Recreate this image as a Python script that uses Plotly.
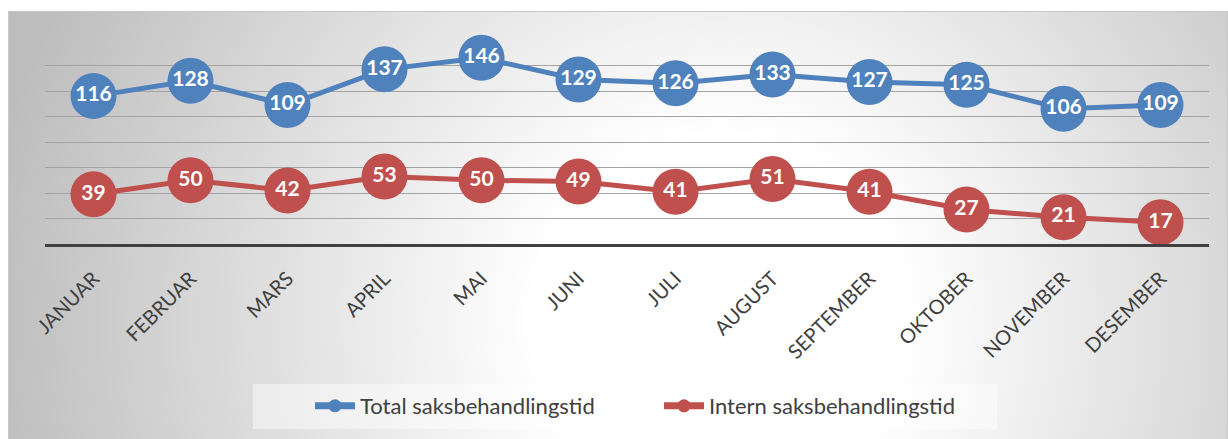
import plotly.graph_objects as go
import urllib.parse

months = ["JANUAR", "FEBRUAR", "MARS", "APRIL", "MAI", "JUNI", "JULI",
          "AUGUST", "SEPTEMBER", "OKTOBER", "NOVEMBER", "DESEMBER"]
total = [116, 128, 109, 137, 146, 129, 126, 133, 127, 125, 106, 109]
intern = [39, 50, 42, 53, 50, 49, 41, 51, 41, 27, 21, 17]
series_names = ["Total saksbehandlingstid", "Intern saksbehandlingstid"]
colors = ["#4f81bd", "#c0504d"]

W, H = 1228, 439
ml, mr, mt, mb = 45, 19, 40, 195
pw, ph = W - ml - mr, H - mt - mb

def px_x(p):
    return (p - ml) / pw

def px_y(p):
    return (H - mb - p) / ph

fig = go.Figure()
for vals, name, col in zip([total, intern], series_names, colors):
    fig.add_trace(go.Scatter(
        x=months, y=vals, mode="lines+markers+text",
        text=[str(v) for v in vals], textposition="middle center",
        textfont=dict(family="Lato", size=21, color="white", weight="bold"),
        line=dict(color=col, width=5),
        marker=dict(color=col, size=46),
        showlegend=False, name=name, cliponaxis=False,
    ))
for name, col in zip(series_names, colors):
    fig.add_trace(go.Scatter(
        x=[None], y=[None], mode="lines+markers", name=name,
        line=dict(color=col, width=7), marker=dict(color=col, size=13),
    ))

# radial gradient background (chart area frame)
bx0, by0, bw, bh = 8, 11, W - 8, H - 11
svg = (
    f'<svg xmlns="http://www.w3.org/2000/svg" width="{bw}" height="{bh}" viewBox="0 0 {bw} {bh}">'
    '<defs><radialGradient id="g" gradientUnits="userSpaceOnUse" cx="712" cy="310" r="740">'
    '<stop offset="0" stop-color="#ffffff"/><stop offset="0.25" stop-color="#ffffff"/>'
    '<stop offset="1" stop-color="#bdbdbd"/></radialGradient></defs>'
    f'<rect x="0.5" y="0.5" width="{bw-1}" height="{bh}" fill="url(#g)" stroke="#c8c8c8" stroke-width="1"/>'
    '</svg>'
)
src = "data:image/svg+xml;charset=utf-8," + urllib.parse.quote(svg)

fig.add_layout_image(dict(
    source=src, xref="paper", yref="paper",
    x=px_x(bx0), y=px_y(by0),
    sizex=bw / pw, sizey=bh / ph,
    xanchor="left", yanchor="top", sizing="stretch", layer="below",
))

# legend backing box
fig.add_shape(type="rect", xref="paper", yref="paper",
              x0=px_x(253), x1=px_x(997), y0=px_y(429), y1=px_y(384),
              fillcolor="rgba(255,255,255,0.45)", line=dict(width=0), layer="below")

fig.update_layout(
    width=W, height=H,
    margin=dict(l=ml, r=mr, t=mt, b=mb, pad=0),
    paper_bgcolor="white", plot_bgcolor="rgba(0,0,0,0)",
    font=dict(family="Lato", color="#404040"),
    xaxis=dict(
        type="category", range=[-0.5, 11.5], showgrid=False, zeroline=False,
        showline=True, linecolor="#404040", linewidth=3,
        tickangle=-45, tickfont=dict(size=20, color="#404040"),
        ticks="", ticklabelstandoff=12,
    ),
    yaxis=dict(
        range=[0, 160], dtick=20, showticklabels=False, zeroline=False,
        showgrid=True, gridcolor="#a3a3a3", gridwidth=1.4, showline=False,
    ),
    legend=dict(
        orientation="h", x=px_x(310), xanchor="left",
        y=px_y(406), yanchor="middle",
        bgcolor="rgba(0,0,0,0)", font=dict(size=22, color="#404040"),
        entrywidth=294, itemwidth=40,
    ),
)

fig.write_html("out.html", config={"displayModeBar": False},
               post_script="document.body.style.margin='0';")
